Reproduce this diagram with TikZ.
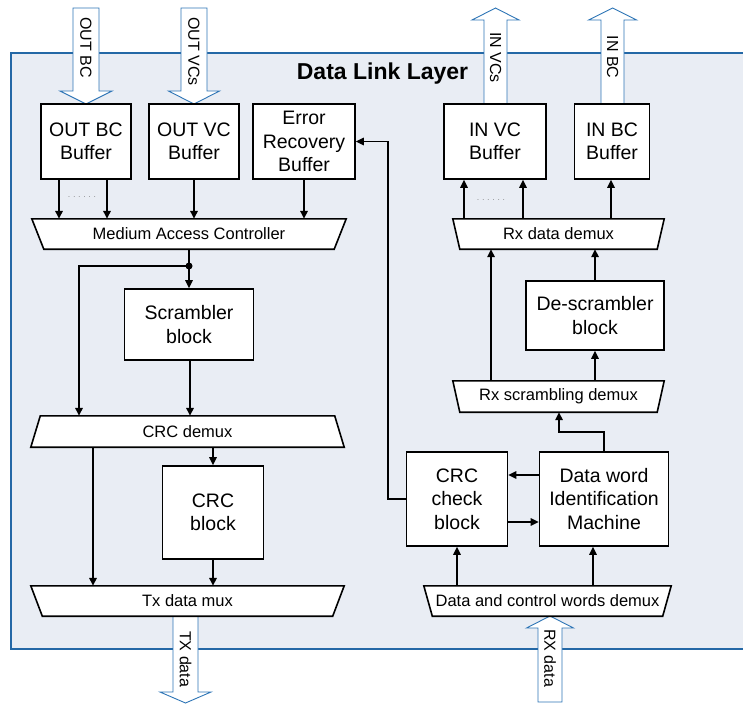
\documentclass[tikz,border=0pt]{standalone}
\usepackage{fontspec}
\setmainfont{Liberation Sans}
\usetikzlibrary{arrows.meta}

\definecolor{layerfill}{RGB}{233,237,244}
\definecolor{layerline}{RGB}{36,104,166}
\definecolor{busline}{RGB}{46,117,182}
\definecolor{dotgray}{RGB}{90,90,90}

\pgfdeclarelayer{bg0}
\pgfdeclarelayer{bg1}
\pgfsetlayers{bg0,bg1,main}

\newcommand\boxfont{\fontsize{19.5}{23.4}\selectfont}
\newcommand\trapfont{\fontsize{16.5}{19}\selectfont}
\newcommand\busfont{\fontsize{16}{19}\selectfont}
\newcommand\titlefont{\fontsize{23}{27}\selectfont\bfseries}
\newcommand\spaceddots{.\hspace{3.2pt}.\hspace{3.2pt}.\hspace{3.2pt}.\hspace{3.2pt}.\hspace{3.2pt}.}

% wide bus arrows: centre x, shaft half width, head half width, tail y, head base y, tip y
\newcommand\fatdown[6]{%
  \draw[bus] (#1-#2,#4) -- (#1+#2,#4) -- (#1+#2,#5) -- (#1+#3,#5) -- (#1,#6)
    -- (#1-#3,#5) -- (#1-#2,#5) -- cycle;}
\newcommand\fatup[6]{%
  \draw[bus] (#1-#2,#4) -- (#1-#2,#5) -- (#1-#3,#5) -- (#1,#6) -- (#1+#3,#5)
    -- (#1+#2,#5) -- (#1+#2,#4) -- cycle;}

% trapezoid outlines drawn behind the text nodes
\newcommand\trapnarrowbottom[2]{%
  \begin{pgfonlayer}{bg1}
    \draw[trap] (#1.north west) -- (#1.north east) -- ([xshift=-#2pt]#1.south east)
      -- ([xshift=#2pt]#1.south west) -- cycle;
  \end{pgfonlayer}}
\newcommand\trapnarrowtop[2]{%
  \begin{pgfonlayer}{bg1}
    \draw[trap] ([xshift=#2pt]#1.north west) -- ([xshift=-#2pt]#1.north east)
      -- (#1.south east) -- (#1.south west) -- cycle;
  \end{pgfonlayer}}

\begin{document}
\begin{tikzpicture}[x=1pt,y=-1pt,
  blk/.style 2 args={draw, line width=1.6pt, fill=white, inner sep=0pt,
    minimum width=#1pt, minimum height=#2pt, align=center, font=\boxfont},
  tnode/.style 2 args={inner sep=0pt, minimum width=#1pt, minimum height=#2pt,
    font=\trapfont},
  trap/.style={draw, line width=1.6pt, fill=white, line join=miter},
  bus/.style={draw=busline, line width=0.9pt, fill=white},
  buslabel/.style={font=\busfont, rotate=-90, anchor=west, inner sep=0pt},
  conn/.style={line width=1.6pt, -{Triangle[length=8pt,width=7.5pt]}},
  dots/.style={font=\fontsize{7}{8}\selectfont, text=dotgray, inner sep=0pt}]

\useasboundingbox (0,0) rectangle (743,704);

% layer frame and the wide bus arrows
\begin{pgfonlayer}{bg0}
  \draw[layerline, line width=2.2pt, fill=layerfill] (11,53) rectangle (760,649);
  \fatdown{86}{13}{26}{8}{91}{104}
  \fatdown{194}{13}{25.5}{8}{91}{104}
  \fatup{495.5}{11.5}{23.5}{104}{20}{8}
  \fatup{612.5}{11.5}{24}{104}{20}{8}
  \fatdown{185.5}{12.5}{25.5}{616}{692}{703}
  \fatup{550}{12}{23.5}{702}{628}{616}
\end{pgfonlayer}

\node[font=\titlefont] (title) at (382.5,74) {Data Link Layer};

% bus labels
\node[buslabel] (lobc) at (86,17) {OUT BC};
\node[buslabel] (lovc) at (194,17) {OUT VCs};
\node[buslabel] (livc) at (495.5,32) {IN VCs};
\node[buslabel] (libc) at (612.5,35.5) {IN BC};
\node[buslabel] (ltx) at (185.5,631) {TX data};
\node[buslabel] (lrx) at (550,629) {RX data};

% blocks
\node[blk={90}{75}] (obc) at (86,141.5) {OUT BC\\Buffer};
\node[blk={90}{75}] (ovc) at (194,141.5) {OUT VC\\Buffer};
\node[blk={102}{75}] (erb) at (304,141.5) {Error\\Recovery\\Buffer};
\node[blk={102}{75}] (ivc) at (495,141.5) {IN VC\\Buffer};
\node[blk={75}{75}] (ibc) at (612,141.5) {IN BC\\Buffer};
\node[blk={129}{71}] (scr) at (189,324.5) {Scrambler\\block};
\node[blk={101}{93}] (crcb) at (213,512.5) {CRC\\block};
\node[blk={138}{69}] (desc) at (595,315.5) {De-scrambler\\block};
\node[blk={101}{94}] (crcc) at (457,499) {CRC\\check\\block};
\node[blk={129}{94}] (dwim) at (604,499) {Data word\\Identification\\Machine};

% multiplexers and demultiplexers
\node[tnode={314}{30}] (mac) at (189,234) {Medium Access Controller};
\node[tnode={313}{31}] (crcd) at (187.5,431.5) {CRC demux};
\node[tnode={313}{30}] (txm) at (187.5,601) {Tx data mux};
\node[tnode={211}{30}] (rxd) at (558.5,234) {Rx data demux};
\node[tnode={211}{31}] (rxs) at (558.5,396.5) {Rx scrambling demux};
\node[tnode={247}{30}] (dcw) at (547.5,601) {Data and control words demux};
\trapnarrowbottom{mac}{12}
\trapnarrowtop{crcd}{9.5}
\trapnarrowbottom{txm}{11.5}
\trapnarrowbottom{rxd}{7}
\trapnarrowbottom{rxs}{7}
\trapnarrowbottom{dcw}{8.5}

% transmit path
\draw[conn] ([xshift=-27pt]obc.south) -- ([xshift=-27pt]obc.south |- mac.north);
\draw[conn] ([xshift=21pt]obc.south) -- ([xshift=21pt]obc.south |- mac.north);
\node[dots] (dtx) at (82,197) {\spaceddots};
\draw[conn] (ovc.south) -- (ovc.south |- mac.north);
\draw[conn] (erb.south) -- (erb.south |- mac.north);
\coordinate (split) at (189,266);
\draw[conn] (mac.south -| split) -- (scr.north);
\fill (split) circle (3.5pt);
\draw[conn] (split) -| ([xshift=-108.5pt]crcd.north);
\draw[conn] ([xshift=1pt]scr.south) -- ([xshift=1pt]scr.south |- crcd.north);
\draw[conn] (crcd.south -| crcb.north) -- (crcb.north);
\draw[conn] ([xshift=-94.5pt]crcd.south) -- ([xshift=-94.5pt]txm.north);
\draw[conn] (crcb.south) -- (crcb.south |- txm.north);

% receive path
\draw[conn] (dcw.north -| crcc.south) -- (crcc.south);
\draw[conn] ([xshift=-11pt]dwim.south |- dcw.north) -- ([xshift=-11pt]dwim.south);
\draw[conn] ([yshift=24pt]dwim.west) -- ([yshift=24pt]dwim.west -| crcc.east);
\draw[conn] ([yshift=-23pt]crcc.east) -- ([yshift=-23pt]crcc.east -| dwim.west);
\coordinate (retry) at (388,300);
\draw[conn] (crcc.west) -| (retry) |- (erb.east);
\draw[conn] (dwim.north) -- ++(0,-19) -| ([xshift=0.5pt]rxs.south);
\draw[conn] ([xshift=-67.5pt]rxs.north) -- ([xshift=-67.5pt]rxd.south);
\draw[conn] (rxs.north -| desc.south) -- (desc.south);
\draw[conn] (desc.north) -- (desc.north |- rxd.south);
\draw[conn] ([xshift=-31pt]ivc.south |- rxd.north) -- ([xshift=-31pt]ivc.south);
\draw[conn] ([xshift=28pt]ivc.south |- rxd.north) -- ([xshift=28pt]ivc.south);
\node[dots] (drx) at (491,200) {\spaceddots};
\draw[conn] ([xshift=-1pt]rxd.north -| ibc.south) -- ([xshift=-1pt]ibc.south);

\end{tikzpicture}
\end{document}
